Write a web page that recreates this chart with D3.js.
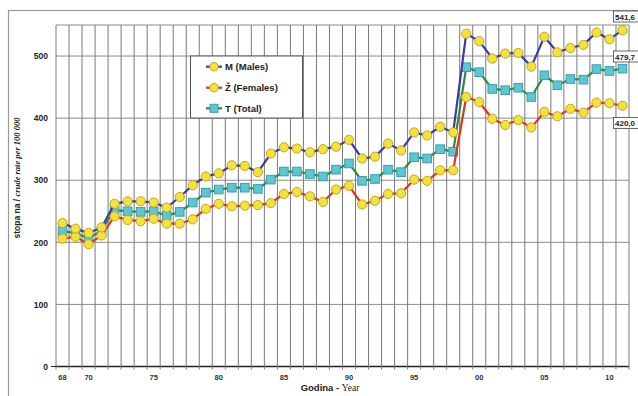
<!DOCTYPE html>
<html><head><meta charset="utf-8">
<script src="https://cdn.jsdelivr.net/npm/d3@7"></script>
<style>
html,body{margin:0;padding:0;background:#fff;}
svg{display:block;font-family:"Liberation Sans",Arial,sans-serif;}
</style></head>
<body><svg id="c" width="638" height="396"></svg>
<script>
const years = d3.range(1968, 2012);
const males = [231,222,215,224,262,266,266,264,256,273,292,306,311,324,323,313,343,353,351,345,350,354,365,335,338,359,348,377,372,386,377,536,524,496,504,505,483,531,506,513,518,538,527,541.6];
const total = [218,215,206,219,252,250,249,250,243,249,264,280,285,288,288,286,301,314,314,310,306,317,327,299,302,317,313,337,335,350,346,482,474,447,445,449,434,469,453,463,462,479,476,479.7];
const females = [206,209,197,211,242,236,234,238,230,230,237,254,262,258,259,260,263,278,281,274,265,285,291,261,267,278,279,301,299,316,316,434,426,399,389,397,385,410,403,415,409,425,424,420.0];
const tickYears = [1968,1970,1975,1980,1985,1990,1995,2000,2005,2010];
const tickLabels = ["68","70","75","80","85","90","95","00","05","10"];
const yTicks = [0,100,200,300,400,500];
const seriesNames = ["M (Males)","Ž (Females)","T (Total)"];
const endLabels = ["541,6","479,7","420,0"];

const svg = d3.select("#c");
const L=56, R=629, T=25, B=366.5;
const x = d3.scaleBand().domain(years).range([L,R]).padding(0);
const y = d3.scaleLinear().domain([0,550]).range([B,T]);
const cx = d => x(d) + x.bandwidth()/2;

// outer frame
svg.append("rect").attr("x",8.5).attr("y",10.5).attr("width",640).attr("height",400)
  .attr("fill","none").attr("stroke","#9a9a9a").attr("stroke-width",1.2);

// horizontal grid
svg.append("g").selectAll("line").data(yTicks.concat([550])).join("line")
  .attr("x1",L).attr("x2",R).attr("y1",d=>y(d)).attr("y2",d=>y(d))
  .attr("stroke",d=>d===0?"#222":"#8c8c8c").attr("stroke-width",d=>d===0?1.3:1);
// vertical grid at category boundaries
svg.append("g").selectAll("line").data(years.concat([2012])).join("line")
  .attr("x1",d=>d===2012?R:x(d)).attr("x2",d=>d===2012?R:x(d))
  .attr("y1",T).attr("y2",B+3)
  .attr("stroke","#7a7a7a").attr("stroke-width",1);
// y axis tick at 0
svg.append("line").attr("x1",L-5).attr("x2",L).attr("y1",y(0)).attr("y2",y(0)).attr("stroke","#222");

// y tick labels
const yAxis = d3.axisLeft(y).tickValues(yTicks).tickSize(0).tickPadding(8);
const gy = svg.append("g").attr("transform",`translate(${L},0)`).call(yAxis);
gy.select(".domain").remove();
gy.selectAll("text").attr("font-size",8.5).attr("font-weight","bold").attr("fill","#222")
  .attr("font-family","Liberation Sans, Arial, sans-serif");

// x tick labels
const xAxis = d3.axisBottom(x).tickValues(tickYears).tickSize(0).tickPadding(8)
  .tickFormat((d,i)=>tickLabels[i]);
const gx = svg.append("g").attr("transform",`translate(0,${B})`).call(xAxis);
gx.select(".domain").remove();
gx.selectAll("text").attr("font-size",7.5).attr("font-weight","bold").attr("fill","#333")
  .attr("font-family","Liberation Sans, Arial, sans-serif");

// axis titles
const xt = svg.append("text").attr("x",330).attr("y",391).attr("text-anchor","middle").attr("fill","#222");
xt.append("tspan").text("Godina - ").attr("font-weight","bold").attr("font-size",9.5);
xt.append("tspan").text("Year").attr("font-family","Liberation Serif, serif").attr("font-size",9.5);
const yt = svg.append("text").attr("transform","translate(20,178) rotate(-90)").attr("text-anchor","middle").attr("fill","#222");
yt.append("tspan").text("stopa na / ").attr("font-weight","bold").attr("font-size",8.5);
yt.append("tspan").text("crude rate per 100 000").attr("font-family","Liberation Serif, serif").attr("font-style","italic").attr("font-weight","bold").attr("font-size",8.5);

// series
const styles = [
  {data:males, line:"#3a3aa8", mark:"circle"},
  {data:females, line:"#e0341e", mark:"circle"},
  {data:total, line:"#2e8b3a", mark:"square"}
];
const drawOrder = [2,1,0];
const line = d3.line().x((d,i)=>cx(years[i])).y(d=>y(d));
drawOrder.forEach(k=>{
  const s = styles[k];
  const g = svg.append("g");
  g.append("path").attr("d",line(s.data)).attr("fill","none").attr("stroke",s.line).attr("stroke-width",2.2);
  if(s.mark==="circle"){
    g.selectAll("circle").data(s.data).join("circle")
      .attr("cx",(d,i)=>cx(years[i])).attr("cy",d=>y(d)).attr("r",4.6)
      .attr("fill","#f2e23c").attr("stroke","#c9a418").attr("stroke-width",1);
  } else {
    g.selectAll("rect").data(s.data).join("rect")
      .attr("x",(d,i)=>cx(years[i])-4.3).attr("y",d=>y(d)-4.3).attr("width",8.6).attr("height",8.6)
      .attr("fill","#5cc6d2").attr("stroke","#3aa0ae").attr("stroke-width",1);
  }
});

// end labels
const endVals = [males[males.length-1], total[total.length-1], females[females.length-1]];
const endY = [16.5, 56.5, 123];
endLabels.forEach((t,i)=>{
  svg.append("rect").attr("x",613.5).attr("y",endY[i]-5.5).attr("width",30).attr("height",11)
    .attr("fill","#fff").attr("stroke","#444").attr("stroke-width",0.8);
  svg.append("text").attr("x",615).attr("y",endY[i]+3).attr("font-size",8).attr("font-weight","bold")
    .attr("fill","#222").text(t);
});

// legend
const lg = svg.append("g");
lg.append("rect").attr("x",190.5).attr("y",56).attr("width",112).attr("height",62)
  .attr("fill","#fff").attr("stroke","#555").attr("stroke-width",1);
const legY = [66.7, 87.7, 108.3];
styles.forEach((s,i)=>{
  lg.append("line").attr("x1",206).attr("x2",222).attr("y1",legY[i]).attr("y2",legY[i])
    .attr("stroke",s.line).attr("stroke-width",2.2);
  if(s.mark==="circle"){
    lg.append("circle").attr("cx",214).attr("cy",legY[i]).attr("r",4.2)
      .attr("fill","#f2e23c").attr("stroke","#c9a418");
  } else {
    lg.append("rect").attr("x",210).attr("y",legY[i]-4).attr("width",8).attr("height",8)
      .attr("fill","#5cc6d2").attr("stroke","#3aa0ae");
  }
  lg.append("text").attr("x",225).attr("y",legY[i]+3.5).attr("font-size",9.5).attr("font-weight","bold")
    .attr("fill","#222").text(seriesNames[i]);
});
</script></body></html>
